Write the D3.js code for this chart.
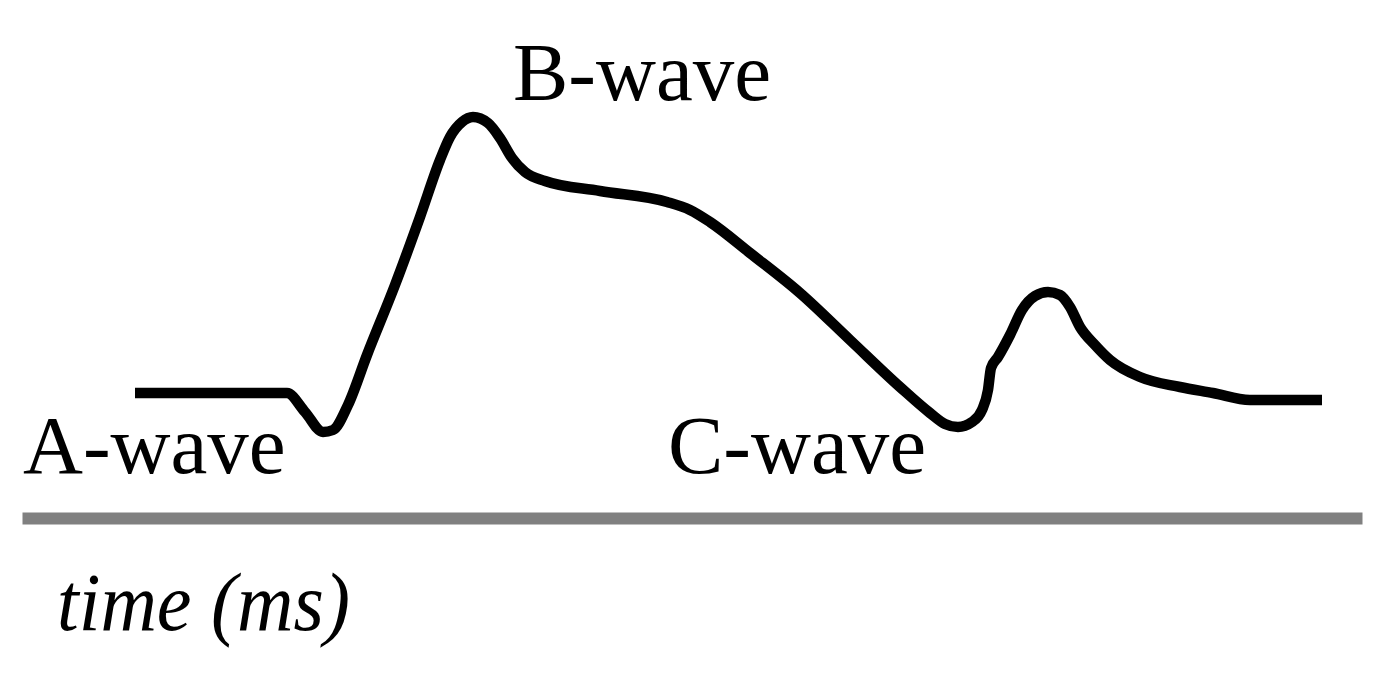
<!DOCTYPE html>
<html>
<head>
<meta charset="utf-8">
<script src="https://cdn.jsdelivr.net/npm/d3@7"></script>
<style>
  body { margin: 0; background: #fff; }
  svg { display: block; }
</style>
</head>
<body>
<svg id="chart"></svg>
<script>
/* Dimensions */
let width = 1385;
let height = 682;

/* Trace: time offset and amplitude relative to baseline */
let times = [0, 152, 170, 188, 198, 213, 232, 260, 285, 305, 315, 327, 338, 353, 365, 377, 390, 410, 465, 532, 555, 575, 615, 665, 715, 765, 795, 810, 823, 837, 847, 853, 856, 863, 875, 887, 900, 913, 925, 935, 945, 960, 975, 1005, 1045, 1078, 1115, 1187];
let amps = [0, 0, -19, -39, -37, -12, 38, 108, 176, 233, 256, 271, 276, 270, 255, 235, 221, 212, 202, 191, 183, 171, 140, 100, 53, 6, -20, -31, -34, -29, -17, 3, 25, 36, 58, 83, 97, 101, 98, 86, 66, 48, 33, 16, 6, 0, -7, -7];

let waveLabels = ["A-wave", "B-wave", "C-wave"];
let axisLabel = "time (ms)";

let svg = d3.select("#chart")
            .attr("width", width)
            .attr("height", height);

let xScale = d3.scaleLinear()
               .domain([0, 1187])
               .range([135, 1322]);

let yScale = d3.scaleLinear()
               .domain([0, 276])
               .range([393, 117]);

// time axis: a thick grey bar, no ticks
let axisScale = d3.scaleLinear().domain([0, 1]).range([22, 1362]);
let axisG = svg.append("g")
               .attr("transform", "translate(0, 518)")
               .call(d3.axisBottom(axisScale).tickValues([]).tickSizeOuter(0));
axisG.select(".domain")
     .attr("stroke", "#808080")
     .attr("stroke-width", 12);

let traceData = times.map((t, i) => ({t: t, a: amps[i]}));

let line = d3.line()
             .x(d => xScale(d.t))
             .y(d => yScale(d.a))
             .curve(d3.curveMonotoneX);

svg.append("path")
   .attr("d", line(traceData))
   .attr("fill", "none")
   .attr("stroke", "#000")
   .attr("stroke-width", 10.5)
   .attr("stroke-linejoin", "round");

// wave labels
let labelPos = [[23, 473], [513, 100], [668, 473]];
svg.selectAll("text.wave")
   .data(waveLabels)
   .enter().append("text")
     .attr("class", "wave")
     .attr("x", (d, i) => labelPos[i][0])
     .attr("y", (d, i) => labelPos[i][1])
     .attr("font-family", "Liberation Serif, serif")
     .attr("font-size", 83)
     .attr("fill", "#000")
     .text(d => d);

svg.append("text")
   .attr("x", 57)
   .attr("y", 630)
   .attr("font-family", "Liberation Serif, serif")
   .attr("font-style", "italic")
   .attr("font-size", 82)
   .attr("textLength", 293)
   .attr("lengthAdjust", "spacingAndGlyphs")
   .attr("fill", "#000")
   .text(axisLabel);
</script>
</body>
</html>
